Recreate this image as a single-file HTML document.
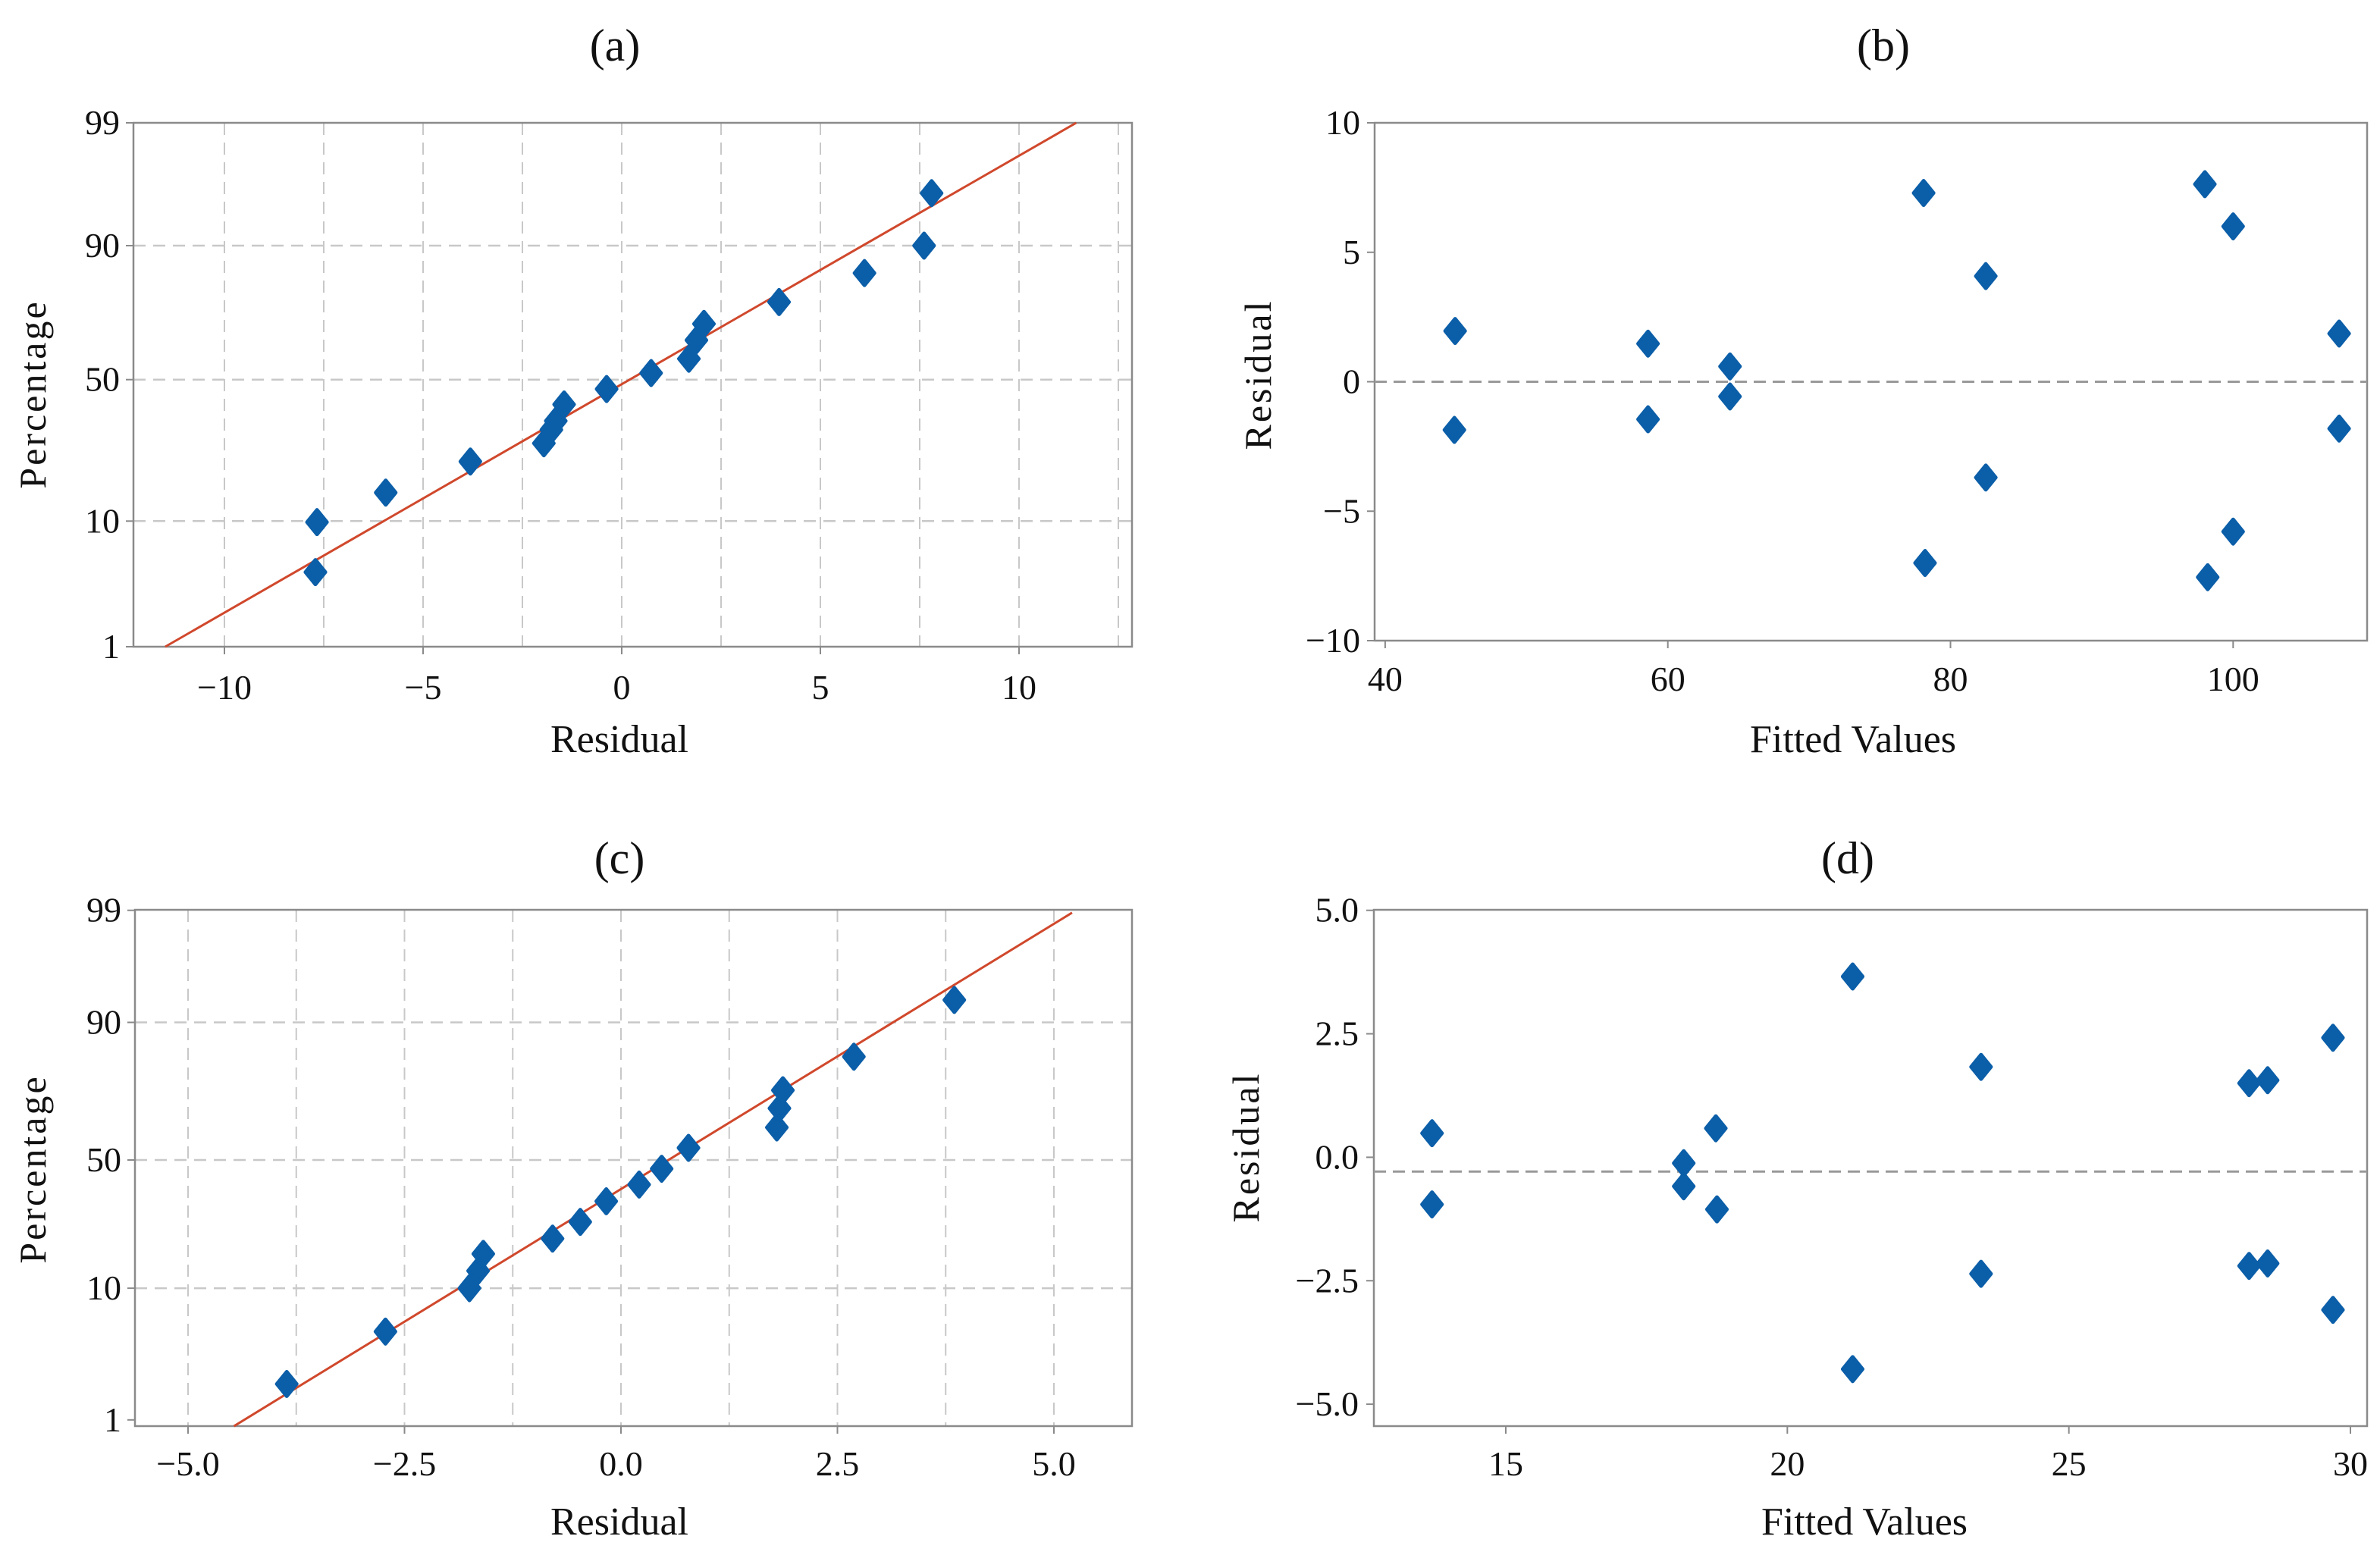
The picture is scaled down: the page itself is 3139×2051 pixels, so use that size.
<!DOCTYPE html>
<html><head><meta charset="utf-8">
<style>
html,body{margin:0;padding:0;background:#fff;}
svg{display:block;font-family:"Liberation Serif",serif;}
</style></head>
<body>
<svg id="fig" width="3139" height="2051" viewBox="0 0 3139 2051" xmlns="http://www.w3.org/2000/svg">
<rect x="0" y="0" width="3139" height="2051" fill="#fff"/>
</svg>
<script>
// ---------- Panel (a): normal probability plot ----------
const aResidual = [-7.71,-7.67,-5.94,-3.81,-1.96,-1.77,-1.66,-1.45,-0.38,0.74,1.69,1.88,2.07,3.96,6.11,7.61,7.80];
const aPercent  = [4.4,9.85,15.3,22.9,28.2,32.5,35.4,41.1,46.6,52.5,57.9,64.7,70.3,77.1,84.6,90.0,95.8];
const aFitX = [-11.49, 11.44];
const aFitP = [1, 99];
const aXTicks = [-10,-5,0,5,10];
const aXTickLabels = ["\u221210","\u22125","0","5","10"];
const aXGrid = [-10,-7.5,-5,-2.5,0,2.5,5,7.5,10,12.5];
const probTicks = [1,10,50,90,99];
const probTickLabels = ["1","10","50","90","99"];
const probGrid = [10,50,90];

// ---------- Panel (b): residual vs fitted ----------
const bFitted = [44.95,44.9,58.6,58.6,64.4,64.4,78.1,78.2,82.5,82.5,98.0,98.2,100.0,100.0,107.5,107.5];
const bResidual = [1.96,-1.86,1.47,-1.45,0.59,-0.57,7.29,-7.0,4.08,-3.7,7.63,-7.55,6.0,-5.79,1.86,-1.81];
const bXTicks = [40,60,80,100];
const bXTickLabels = ["40","60","80","100"];
const bYTicks = [-10,-5,0,5,10];
const bYTickLabels = ["\u221210","\u22125","0","5","10"];
const bRefLine = 0;

// ---------- Panel (c): normal probability plot ----------
const cResidual = [-3.86,-2.72,-1.75,-1.65,-1.59,-0.79,-0.47,-0.17,0.21,0.47,0.78,1.80,1.83,1.87,2.69,3.85];
const cPercent  = [2.06,5.2,10.0,13.4,17.4,21.6,26.8,34.0,40.3,46.5,54.5,61.9,68.5,74.2,83.2,93.2];
const cFitX = [-4.47, 5.21];
const cFitP = [0.875, 98.94];
const cXTicks = [-5,-2.5,0,2.5,5];
const cXTickLabels = ["\u22125.0","\u22122.5","0.0","2.5","5.0"];
const cXGrid = [-5,-3.75,-2.5,-1.25,0,1.25,2.5,3.75,5];

// ---------- Panel (d): residual vs fitted ----------
const dFitted = [13.69,13.69,18.16,18.16,18.73,18.75,21.16,21.16,23.44,23.44,28.2,28.53,28.2,28.53,29.69,29.69];
const dResidual = [0.487,-0.955,-0.12,-0.588,0.586,-1.055,3.66,-4.29,1.83,-2.36,1.50,1.56,-2.2,-2.15,2.42,-3.09];
const dXTicks = [15,20,25,30];
const dXTickLabels = ["15","20","25","30"];
const dYTicks = [-5,-2.5,0,2.5,5];
const dYTickLabels = ["\u22125.0","\u22122.5","0.0","2.5","5.0"];
const dRefLine = -0.29;

const NS = "http://www.w3.org/2000/svg";
const svg = document.getElementById('fig');
function mk(tag, attrs, parent){
  const e = document.createElementNS(NS, tag);
  for (const k in attrs) e.setAttribute(k, attrs[k]);
  (parent||svg).appendChild(e);
  return e;
}
function probit(p){
  const a=[-3.969683028665376e+01,2.209460984245205e+02,-2.759285104469687e+02,1.383577518672690e+02,-3.066479806614716e+01,2.506628277459239e+00];
  const b=[-5.447609879822406e+01,1.615858368580409e+02,-1.556989798598866e+02,6.680131188771972e+01,-1.328068155922803e+01];
  const c=[-7.784894002430293e-03,-3.223964580411365e-01,-2.400758277161838e+00,-2.549671664311843e+00,4.374664141464968e+00,2.938163982698783e+00];
  const d=[7.784695709041462e-03,3.224671290700398e-01,2.445134137142996e+00,3.754408661907416e+00];
  const pl=0.02425; let q,r;
  if(p<pl){q=Math.sqrt(-2*Math.log(p));return (((((c[0]*q+c[1])*q+c[2])*q+c[3])*q+c[4])*q+c[5])/((((d[0]*q+d[1])*q+d[2])*q+d[3])*q+1);}
  if(p>1-pl){q=Math.sqrt(-2*Math.log(1-p));return -(((((c[0]*q+c[1])*q+c[2])*q+c[3])*q+c[4])*q+c[5])/((((d[0]*q+d[1])*q+d[2])*q+d[3])*q+1);}
  q=p-0.5;r=q*q;return (((((a[0]*r+a[1])*r+a[2])*r+a[3])*r+a[4])*r+a[5])*q/(((((b[0]*r+b[1])*r+b[2])*r+b[3])*r+b[4])*r+1);
}
function linScale(d0,d1,r0,r1){ return v => r0 + (v-d0)/(d1-d0)*(r1-r0); }
function probScale(tickP, tickPx){
  const tz = tickP.map(p=>probit(p/100));
  return p => {
    const z = probit(p/100);
    let i = 0;
    if (z > tz[tz.length-1]) i = tz.length-2;
    else { while (i < tz.length-2 && z > tz[i+1]) i++; }
    return tickPx[i] + (z-tz[i])/(tz[i+1]-tz[i])*(tickPx[i+1]-tickPx[i]);
  };
}
function diamond(g, cx, cy, name){
  const p = mk('path', {d:`M${cx},${cy-16} L${cx+13},${cy} L${cx},${cy+16} L${cx-13},${cy} Z`, fill:'#0b5ea8', stroke:'#0b5ea8', 'stroke-width':5, 'stroke-linejoin':'round'}, g);
  
  
}
function text(g, x, y, s, size, anchor, name, extra){
  const t = mk('text', Object.assign({x:x, y:y, 'font-size':size, 'text-anchor':anchor||'middle', fill:'#111'}, extra||{}), g);
  t.textContent = s;
  
  
  return t;
}
function frame(g, L, T, R, B){
  const r = mk('rect', {x:L, y:T, width:R-L, height:B-T, fill:'none', stroke:'#8a8a8a', 'stroke-width':2.5}, g);
  
  
}
function xTicksDraw(g, xs, ticks, labels, B, labelY){
  ticks.forEach((v,i)=>{
    const x = xs(v);
    const t = mk('line', {x1:x, y1:B, x2:x, y2:B+10, stroke:'#8a8a8a', 'stroke-width':2}, g);
    
    
    text(g, x, labelY, labels[i], 46, 'middle', 'x-tick-label');
  });
}
function yTicksDraw(g, ys, ticks, labels, L, labelX){
  ticks.forEach((v,i)=>{
    const y = ys(v);
    const t = mk('line', {x1:L-10, y1:y, x2:L, y2:y, stroke:'#8a8a8a', 'stroke-width':2}, g);
    
    
    text(g, labelX, y+15, labels[i], 46, 'end', 'y-tick-label');
  });
}

// ===== Panel a =====
(function(){
  const g = mk('g', {});  
  const L=176,T=162,R=1493,B=853;
  const xs = linScale(0,10,820,1344);
  const ys = probScale(probTicks,[853,687.3,500.7,324,162]);
  aXGrid.forEach(v=>{const l=mk('line',{x1:xs(v),y1:T,x2:xs(v),y2:B,stroke:'#c8c8c8','stroke-width':2,'stroke-dasharray':'16 10'},g);});
  probGrid.forEach(v=>{const l=mk('line',{x1:L,y1:ys(v),x2:R,y2:ys(v),stroke:'#c8c8c8','stroke-width':2.5,'stroke-dasharray':'16 10'},g);});
  frame(g,L,T,R,B);
  const fl = mk('line',{x1:xs(aFitX[0]),y1:ys(aFitP[0]),x2:xs(aFitX[1]),y2:ys(aFitP[1]),stroke:'#d0482c','stroke-width':3},g);
   
  aResidual.forEach((v,i)=>diamond(g, xs(v), ys(aPercent[i]), 'residual-point'));
  xTicksDraw(g, xs, aXTicks, aXTickLabels, B, 922);
  yTicksDraw(g, ys, probTicks, probTickLabels, L, 158);
  text(g, 811, 80, '(a)', 60, 'middle', 'panel-title-a');
  text(g, 817, 992, 'Residual', 52, 'middle', 'x-axis-title');
  text(g, 60, 520, 'Percentage', 50, 'middle', 'y-axis-title', {transform:'rotate(-90 60 520)', 'letter-spacing':'3'});
})();

// ===== Panel b =====
(function(){
  const g = mk('g', {});  
  const L=1813,T=162,R=3122,B=845;
  const xs = linScale(40,100,1826.9,2945.3);
  const ys = linScale(-10,10,845,162);
  frame(g,L,T,R,B);
  const rl = mk('line',{x1:L,y1:ys(bRefLine),x2:R,y2:ys(bRefLine),stroke:'#999','stroke-width':3,'stroke-dasharray':'16 9'},g);
   
  bFitted.forEach((v,i)=>diamond(g, xs(v), ys(bResidual[i]), 'residual-point'));
  xTicksDraw(g, xs, bXTicks, bXTickLabels, B, 911);
  yTicksDraw(g, ys, bYTicks, bYTickLabels, L, 1794);
  text(g, 2484, 80, '(b)', 60, 'middle', 'panel-title-b');
  text(g, 2444, 992, 'Fitted Values', 52, 'middle', 'x-axis-title');
  text(g, 1676, 494, 'Residual', 50, 'middle', 'y-axis-title', {transform:'rotate(-90 1676 494)', 'letter-spacing':'3'});
})();

// ===== Panel c =====
(function(){
  const g = mk('g', {});  
  const L=178,T=1200,R=1493,B=1881;
  const xs = linScale(0,2.5,819,1104.5);
  const ys = probScale(probTicks,[1872.8,1699.1,1530,1348.5,1200.7]);
  cXGrid.forEach(v=>{const l=mk('line',{x1:xs(v),y1:T,x2:xs(v),y2:B,stroke:'#c8c8c8','stroke-width':2,'stroke-dasharray':'16 10'},g);});
  probGrid.forEach(v=>{const l=mk('line',{x1:L,y1:ys(v),x2:R,y2:ys(v),stroke:'#c8c8c8','stroke-width':2.5,'stroke-dasharray':'16 10'},g);});
  frame(g,L,T,R,B);
  const fl = mk('line',{x1:xs(cFitX[0]),y1:ys(cFitP[0]),x2:xs(cFitX[1]),y2:ys(cFitP[1]),stroke:'#d0482c','stroke-width':3},g);
   
  cResidual.forEach((v,i)=>diamond(g, xs(v), ys(cPercent[i]), 'residual-point'));
  xTicksDraw(g, xs, cXTicks, cXTickLabels, B, 1946);
  yTicksDraw(g, ys, probTicks, probTickLabels, L, 160);
  text(g, 817, 1152, '(c)', 60, 'middle', 'panel-title-c');
  text(g, 817, 2024, 'Residual', 52, 'middle', 'x-axis-title');
  text(g, 60, 1542, 'Percentage', 50, 'middle', 'y-axis-title', {transform:'rotate(-90 60 1542)', 'letter-spacing':'3'});
})();

// ===== Panel d =====
(function(){
  const g = mk('g', {});  
  const L=1812,T=1200,R=3122,B=1881;
  const xs = linScale(15,30,1986,3100);
  const ys = linScale(-5,5,1852.1,1200.7);
  frame(g,L,T,R,B);
  const rl = mk('line',{x1:L,y1:ys(dRefLine),x2:R,y2:ys(dRefLine),stroke:'#999','stroke-width':3,'stroke-dasharray':'16 9'},g);
   
  dFitted.forEach((v,i)=>diamond(g, xs(v), ys(dResidual[i]), 'residual-point'));
  xTicksDraw(g, xs, dXTicks, dXTickLabels, B, 1946);
  yTicksDraw(g, ys, dYTicks, dYTickLabels, L, 1792);
  text(g, 2437, 1152, '(d)', 60, 'middle', 'panel-title-d');
  text(g, 2459, 2024, 'Fitted Values', 52, 'middle', 'x-axis-title');
  text(g, 1660, 1513, 'Residual', 50, 'middle', 'y-axis-title', {transform:'rotate(-90 1660 1513)', 'letter-spacing':'3'});
})();
</script>
</body></html>
